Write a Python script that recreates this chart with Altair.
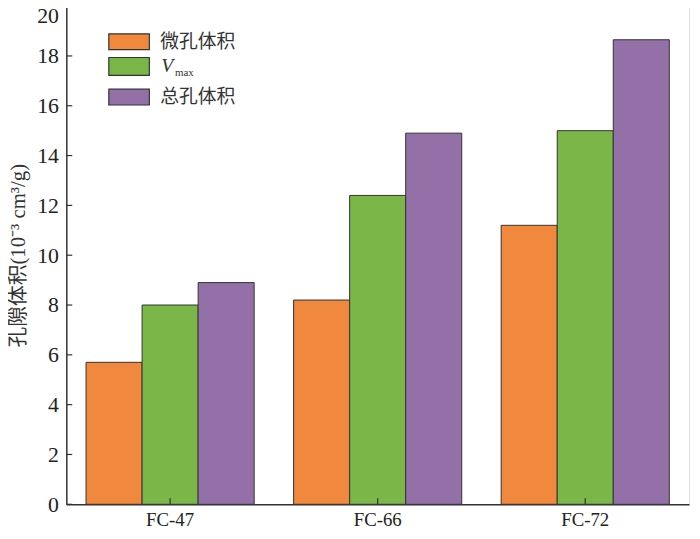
import altair as alt
import pandas as pd

groups = ["FC-47", "FC-66", "FC-72"]
series = ["微孔体积", "Vmax", "总孔体积"]
micro = [5.7, 8.2, 11.2]
vmax = [8.0, 12.4, 15.0]
total = [8.9, 14.9, 18.65]
colors = ["#F0883E", "#7AB648", "#9470A8"]
y_ticks = [0, 2, 4, 6, 8, 10, 12, 14, 16, 18, 20]

W, H = 630, 504
SERIF = "Liberation Serif, Times New Roman, serif"
CJK = "Liberation Serif, Noto Sans CJK SC, serif"

rows = []
for gi, g in enumerate(groups):
    for s, vals in zip(series, [micro, vmax, total]):
        rows.append({"group": g, "series": s, "value": vals[gi]})
df = pd.DataFrame(rows)

xscale = alt.Scale(domain=groups, paddingInner=0.19, paddingOuter=0.095)
yscale = alt.Scale(domain=[0, 20], nice=False)
cscale = alt.Scale(domain=series, range=colors)

bars = alt.Chart(df).mark_bar(stroke="#333333", strokeWidth=1).encode(
    x=alt.X("group:N", scale=xscale, sort=groups,
            axis=alt.Axis(title=None, labelFont=SERIF, labelFontSize=19, labelColor="#222",
                          labelAngle=0, ticks=False, labelPadding=6,
                          domainColor="#333", domainWidth=1.5)),
    xOffset=alt.XOffset("series:N", sort=series, scale=alt.Scale(domain=series)),
    y=alt.Y("value:Q", scale=yscale,
            axis=alt.Axis(title="孔隙体积(10⁻³ cm³/g)", titleFont=CJK, titleFontSize=21,
                          titleFontWeight="normal", titleColor="#333", titlePadding=8,
                          values=y_ticks, labelFont=SERIF, labelFontSize=22, labelColor="#222",
                          labelBaseline={"condition": {"test": "datum.value == 20", "value": "top"},
                                         "value": "middle"},
                          ticks=False, labelPadding=8, grid=False,
                          domainColor="#333", domainWidth=1.5)),
    color=alt.Color("series:N", scale=cscale, legend=None),
)

tick_df = pd.DataFrame({"t": y_ticks})
yticks = alt.Chart(tick_df).mark_rule(color="#333", strokeWidth=1.2).encode(
    y=alt.Y("t:Q", scale=yscale),
    x=alt.value(0), x2=alt.value(6),
)

gdf = pd.DataFrame({"group": groups})
xticks = alt.Chart(gdf).mark_rule(color="#333", strokeWidth=1.2).encode(
    x=alt.X("group:N", scale=xscale, sort=groups, bandPosition=0.5),
    y=alt.value(H), y2=alt.value(H - 6),
)

# legend
leg_pos = [(28, 44), (52, 70), (84, 100)]
legend_layers = []
one = pd.DataFrame({"series": series})
for i, s in enumerate(series):
    y0, y1 = leg_pos[i]
    legend_layers.append(
        alt.Chart(one[one.series == s]).mark_rect(stroke="#333", strokeWidth=1.2).encode(
            x=alt.value(43), x2=alt.value(84), y=alt.value(y0), y2=alt.value(y1),
            color=alt.Color("series:N", scale=cscale, legend=None),
        )
    )
for i, s in enumerate(series):
    y0, y1 = leg_pos[i]
    yc = (y0 + y1) / 2
    if s == "Vmax":
        legend_layers.append(
            alt.Chart(one[one.series == s]).mark_text(
                font=SERIF, fontSize=20, fontStyle="italic", align="left", baseline="middle",
                color="#333").encode(x=alt.value(96), y=alt.value(yc), text=alt.value("V")))
        legend_layers.append(
            alt.Chart(one[one.series == s]).mark_text(
                font=SERIF, fontSize=11, align="left", baseline="middle",
                color="#333").encode(x=alt.value(110), y=alt.value(yc + 7), text=alt.value("max")))
    else:
        legend_layers.append(
            alt.Chart(one[one.series == s]).mark_text(
                font=CJK, fontSize=19, align="left", baseline="middle",
                color="#333").encode(x=alt.value(95), y=alt.value(yc), text="series:N"))

chart = alt.layer(bars, yticks, xticks, *legend_layers).properties(
    width=W, height=H,
    autosize=alt.AutoSizeParams(type="none"),
    padding={"left": 59, "top": -5, "right": 3, "bottom": 32},
).configure_view(stroke="#333", strokeWidth=1.5).configure(background="white")

chart.save("out.html", embed_options={"renderer": "svg", "actions": False})
